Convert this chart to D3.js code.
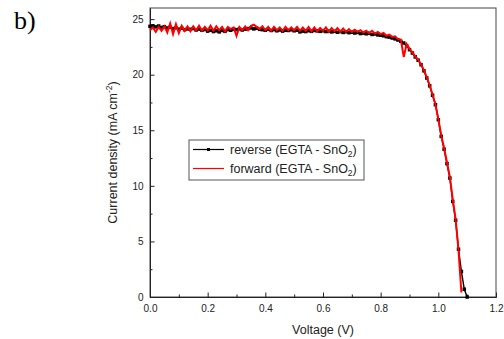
<!DOCTYPE html>
<html>
<head>
<meta charset="utf-8">
<script src="https://cdn.jsdelivr.net/npm/d3@7"></script>
<style>
  body { margin: 0; background: #fff; }
  svg { display: block; font-family: "Liberation Sans", Arial, sans-serif; }
  .axis path { stroke: #222; }
  .axis line { stroke: #222; }
  .axis text { font-size: 10px; fill: #222; }
</style>
</head>
<body>
<svg id="jv" width="504" height="339"></svg>
<script>
// voltage points (V), shared by both scans
const voltages = [
  0.00, 0.01, 0.02, 0.03, 0.04, 0.05, 0.06, 0.07, 0.08, 0.09,
  0.10, 0.11, 0.12, 0.13, 0.14, 0.15, 0.16, 0.17, 0.18, 0.19,
  0.20, 0.21, 0.22, 0.23, 0.24, 0.25, 0.26, 0.27, 0.28, 0.29,
  0.30, 0.31, 0.32, 0.33, 0.34, 0.35, 0.36, 0.37, 0.38, 0.39,
  0.40, 0.41, 0.42, 0.43, 0.44, 0.45, 0.46, 0.47, 0.48, 0.49,
  0.50, 0.51, 0.52, 0.53, 0.54, 0.55, 0.56, 0.57, 0.58, 0.59,
  0.60, 0.61, 0.62, 0.63, 0.64, 0.65, 0.66, 0.67, 0.68, 0.69,
  0.70, 0.71, 0.72, 0.73, 0.74, 0.75, 0.76, 0.77, 0.78, 0.79,
  0.80, 0.81, 0.82, 0.83, 0.84, 0.85, 0.86, 0.87, 0.88, 0.89,
  0.90, 0.91, 0.92, 0.93, 0.94, 0.95, 0.96, 0.97, 0.98, 0.99,
  1.00, 1.01, 1.02, 1.03, 1.04, 1.05, 1.06, 1.07, 1.08, 1.09, 1.10
];

// current density (mA cm-2), reverse scan
const reverseJ = [
  24.35, 24.40, 24.30, 24.38, 24.25, 24.32, 24.20, 24.28, 24.15, 24.22,
  24.10, 24.18, 24.05, 24.12, 24.08, 24.15, 24.02, 24.10, 24.00, 24.06,
  23.92, 24.00, 23.88, 23.95, 23.85, 23.98, 23.90, 24.05, 24.00, 24.10,
  24.05, 24.12, 24.02, 24.10, 24.15, 24.20, 24.12, 24.18, 24.08, 24.05,
  24.00, 24.08, 23.98, 24.05, 23.95, 24.02, 23.92, 24.00, 23.98, 24.04,
  23.95, 24.00, 23.85, 23.92, 23.88, 23.96, 23.90, 23.98, 23.94, 23.90,
  23.95, 23.88, 23.92, 23.85, 23.90, 23.82, 23.88, 23.80, 23.86, 23.78,
  23.82, 23.75, 23.80, 23.70, 23.74, 23.68, 23.72, 23.62, 23.66, 23.58,
  23.55, 23.50, 23.42, 23.38, 23.30, 23.22, 23.12, 23.00, 22.85, 22.60,
  22.25, 21.95, 21.60, 21.30, 20.90, 20.35, 19.70, 19.00, 18.15, 17.30,
  15.95, 14.45, 13.30, 12.00, 10.70, 8.60, 6.90, 4.30, 2.30, 0.70, 0.00
];

// current density (mA cm-2), forward scan (ends at 1.08 V)
const forwardJ = [
  24.00, 24.25, 23.85, 24.30, 23.95, 24.35, 23.80, 24.60, 23.65, 24.55,
  23.75, 24.40, 23.95, 24.35, 23.90, 24.35, 24.00, 24.40, 23.95, 24.30,
  24.00, 24.40, 23.95, 24.35, 24.00, 24.30, 23.90, 24.30, 24.10, 24.25,
  23.50, 24.30, 24.00, 24.35, 24.00, 24.40, 24.50, 24.30, 24.10, 24.35,
  24.00, 24.30, 23.95, 24.30, 24.00, 24.25, 23.95, 24.30, 24.00, 24.25,
  24.00, 24.30, 23.95, 24.25, 23.95, 24.30, 23.90, 24.25, 23.90, 24.20,
  23.95, 24.25, 23.85, 24.20, 23.90, 24.20, 23.85, 24.15, 23.85, 24.10,
  23.85, 24.05, 23.85, 24.00, 23.80, 23.95, 23.75, 23.95, 23.70, 23.85,
  23.65, 23.75, 23.50, 23.60, 23.40, 23.45, 23.20, 23.15, 21.60, 22.75,
  22.35, 22.00, 21.65, 21.35, 20.95, 20.40, 19.75, 19.05, 18.20, 17.35,
  16.00, 14.55, 13.40, 12.10, 10.80, 8.80, 7.00, 4.20, 0.40
];

const xMajorTicks = [0, 0.2, 0.4, 0.6, 0.8, 1.0, 1.2];
const xMinorTicks = [0.1, 0.3, 0.5, 0.7, 0.9, 1.1];
const yMajorTicks = [0, 5, 10, 15, 20, 25];
const yMinorTicks = [2.5, 7.5, 12.5, 17.5, 22.5];

const seriesNames = ['reverse (EGTA - SnO', 'forward (EGTA - SnO'];

const svg = d3.select('#jv');
const margin = { top: 8, right: 8, bottom: 42, left: 150 };
const width = +svg.attr('width');
const height = +svg.attr('height');
const chartWidth = width - margin.left - margin.right;
const chartHeight = height - margin.top - margin.bottom;

const xScale = d3.scaleLinear().domain([0, 1.2]).range([0, chartWidth]);
const yScale = d3.scaleLinear().domain([0, 26]).range([chartHeight, 0]);

const g = svg.append('g')
    .attr('transform', `translate(${margin.left},${margin.top})`);

// frame
g.append('rect')
    .attr('width', chartWidth)
    .attr('height', chartHeight)
    .attr('fill', 'none')
    .attr('stroke', '#444')
    .attr('stroke-width', 1);

// minor ticks
g.append('g')
    .attr('class', 'axis')
    .attr('transform', `translate(0,${chartHeight})`)
    .call(d3.axisBottom(xScale).tickValues(xMinorTicks).tickSizeInner(-2.5).tickSizeOuter(0).tickFormat(''));
g.append('g')
    .attr('class', 'axis')
    .call(d3.axisLeft(yScale).tickValues(yMinorTicks).tickSizeInner(-2.5).tickSizeOuter(0).tickFormat(''));

// major ticks and labels
g.append('g')
    .attr('class', 'axis')
    .attr('transform', `translate(0,${chartHeight})`)
    .call(d3.axisBottom(xScale).tickValues(xMajorTicks).tickSizeInner(-4.5).tickSizeOuter(0)
        .tickPadding(8).tickFormat(d3.format('.1f')));
g.append('g')
    .attr('class', 'axis')
    .call(d3.axisLeft(yScale).tickValues(yMajorTicks).tickSizeInner(-4.5).tickSizeOuter(0)
        .tickPadding(6.5).tickFormat(d3.format('d')));

// curves
const reverseData = voltages.map((v, i) => ({ v: v, j: reverseJ[i] }));
const forwardData = forwardJ.map((j, i) => ({ v: voltages[i], j: j }));

const line = d3.line()
    .x(d => xScale(d.v))
    .y(d => yScale(d.j));

g.append('path')
    .datum(reverseData)
    .attr('fill', 'none')
    .attr('stroke', '#000')
    .attr('stroke-width', 1.4)
    .attr('d', line);

g.selectAll('.marker')
    .data(reverseData)
    .enter().append('rect')
    .attr('class', 'marker')
    .attr('x', d => xScale(d.v) - 1.75)
    .attr('y', d => yScale(d.j) - 1.75)
    .attr('width', 3.5)
    .attr('height', 3.5)
    .attr('fill', '#000');

g.append('path')
    .datum(forwardData)
    .attr('fill', 'none')
    .attr('stroke', '#ff0000')
    .attr('stroke-width', 2)
    .attr('d', line);

// legend
const legend = svg.append('g').attr('transform', 'translate(189,140)');
legend.append('rect')
    .attr('width', 175)
    .attr('height', 40)
    .attr('fill', '#fff')
    .attr('stroke', '#555')
    .attr('stroke-width', 1);

const legendColors = ['#000', '#ff0000'];
seriesNames.forEach((name, i) => {
    const cy = 9.5 + i * 19;
    legend.append('line')
        .attr('x1', 4).attr('x2', 35)
        .attr('y1', cy).attr('y2', cy)
        .attr('stroke', legendColors[i])
        .attr('stroke-width', 1.2);
    if (i === 0) {
        legend.append('rect')
            .attr('x', 18).attr('y', cy - 1.5)
            .attr('width', 3).attr('height', 3)
            .attr('fill', '#000');
    }
    const t = legend.append('text')
        .attr('x', 41)
        .attr('y', cy + 4.5)
        .attr('font-size', '12.5px')
        .attr('fill', '#222')
        .text(name);
    t.append('tspan').attr('font-size', '8.5px').attr('dy', 3).text('2');
    t.append('tspan').attr('dy', -3).text(')');
});

// axis titles
svg.append('text')
    .attr('x', margin.left + chartWidth / 2)
    .attr('y', 334)
    .attr('text-anchor', 'middle')
    .attr('font-size', '12.5px')
    .attr('fill', '#222')
    .text('Voltage (V)');

const yTitle = svg.append('text')
    .attr('transform', `translate(117,${margin.top + chartHeight / 2}) rotate(-90)`)
    .attr('text-anchor', 'middle')
    .attr('font-size', '12.5px')
    .attr('fill', '#222')
    .text('Current density (mA cm');
yTitle.append('tspan').attr('font-size', '8.5px').attr('dy', -5).text('-2');
yTitle.append('tspan').attr('dy', 5).text(')');

// panel label
svg.append('text')
    .attr('x', 14)
    .attr('y', 29)
    .attr('font-family', '"Liberation Serif", "Times New Roman", serif')
    .attr('font-size', '26px')
    .attr('fill', '#000')
    .text('b)');
</script>
</body>
</html>
